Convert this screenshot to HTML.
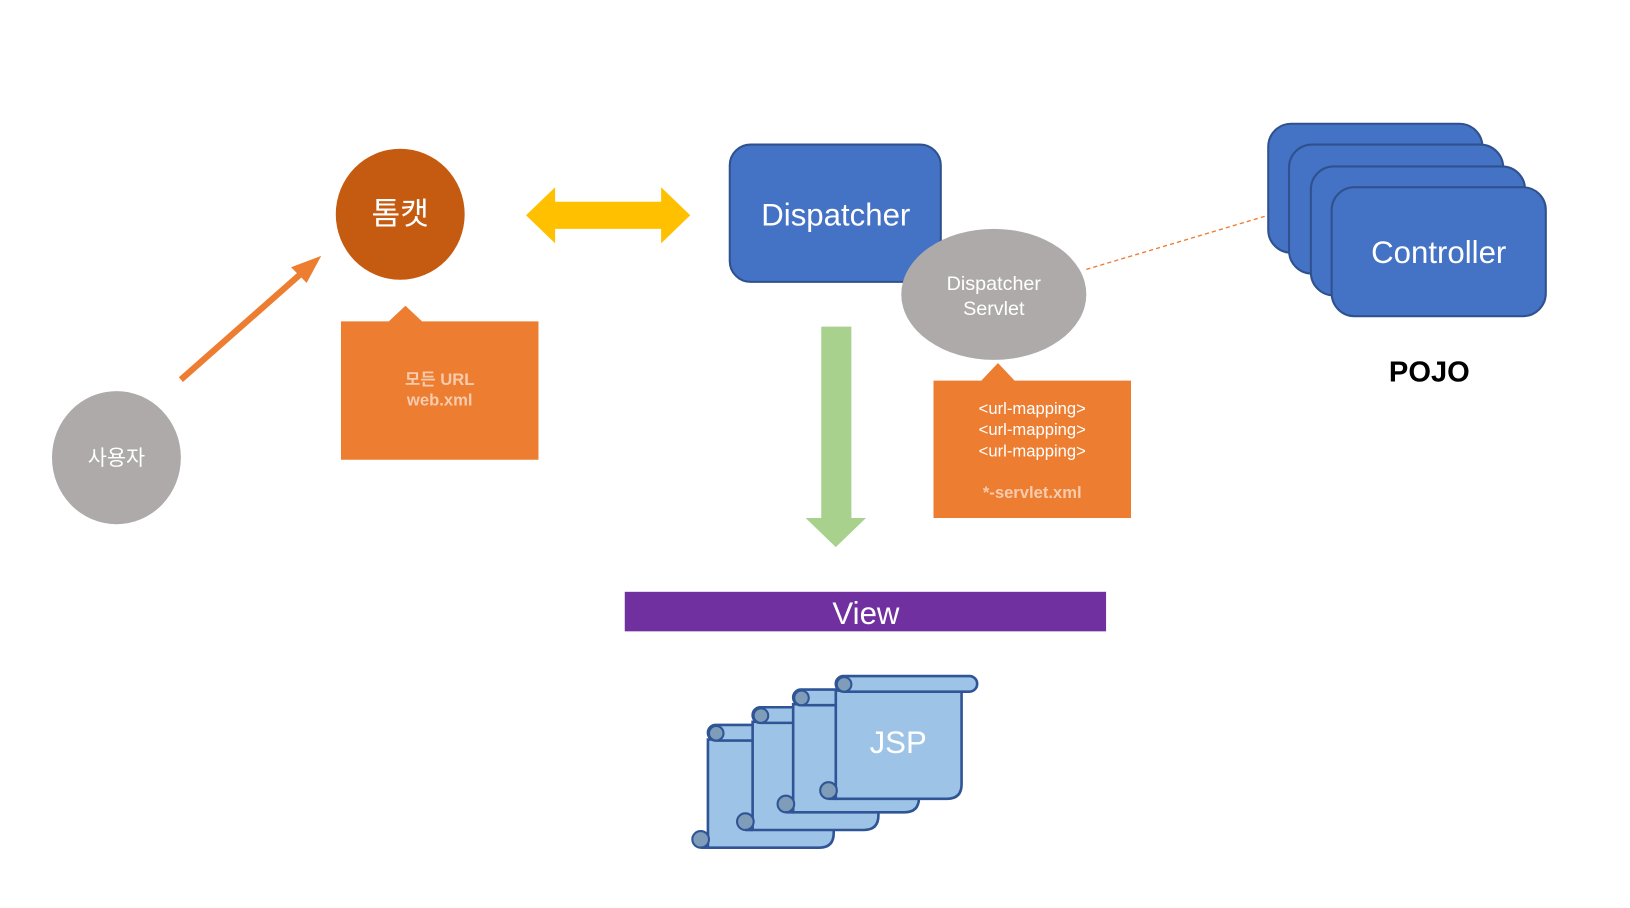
<!DOCTYPE html>
<html><head><meta charset="utf-8"><style>
html,body{margin:0;padding:0;background:#fff;width:1630px;height:908px;overflow:hidden}
svg{display:block}
text{font-family:"Liberation Sans","Noto Sans CJK KR",sans-serif}
</style></head><body>
<svg width="1630" height="908" viewBox="0 0 1568 873" preserveAspectRatio="none" xmlns="http://www.w3.org/2000/svg">
<defs>
<g id="scroll">
  <path d="M0,14 L0,118 L107,118 Q121,118 121,104 L121,14 Z" fill="#9DC3E6" stroke="#2F5597" stroke-width="2.5"/>
  <rect x="0" y="0" width="136" height="15" rx="7.5" fill="#9DC3E6" stroke="#2F5597" stroke-width="2.5"/>
  <circle cx="8" cy="8" r="7" fill="#7F9DB9" stroke="#2F5597" stroke-width="2"/>
  <circle cx="-7" cy="110" r="8" fill="#7F9DB9" stroke="#2F5597" stroke-width="2"/>
  <line x1="-7" y1="118" x2="0" y2="118" stroke="#2F5597" stroke-width="2.5"/>
</g>
</defs>
<ellipse cx="112" cy="440" rx="62" ry="64" fill="#AEAAAA"/>
<text x="112" y="447" font-size="20" fill="#fff" text-anchor="middle">사용자</text>
<line x1="174" y1="365" x2="292" y2="261" stroke="#ED7D31" stroke-width="6"/>
<polygon points="309,246 280,257 295,272" fill="#ED7D31"/>
<ellipse cx="385" cy="206" rx="62" ry="63" fill="#C55A11"/>
<text x="385" y="216" font-size="30" fill="#fff" text-anchor="middle">톰캣</text>
<polygon points="328,309 374,309 390,294 406,309 518,309 518,442 328,442" fill="#ED7D31"/>
<text x="423" y="370" font-size="16" font-weight="bold" fill="#F8CBAD" text-anchor="middle">모든 URL</text>
<text x="423" y="390" font-size="16" font-weight="bold" fill="#F8CBAD" text-anchor="middle">web.xml</text>
<polygon points="506,207 534,180 534,194 636,194 636,180 664,207 636,234 636,220 534,220 534,234" fill="#FFC000"/>
<rect x="702" y="139" width="203" height="132" rx="20" fill="#4472C4" stroke="#2F528F" stroke-width="2"/>
<text x="804" y="217" font-size="30" fill="#fff" text-anchor="middle">Dispatcher</text>
<ellipse cx="956" cy="283" rx="89" ry="63" fill="#AEAAAA"/>
<text x="956" y="279" font-size="19" fill="#fff" text-anchor="middle">Dispatcher</text>
<text x="956" y="303" font-size="19" fill="#fff" text-anchor="middle">Servlet</text>
<line x1="1045" y1="259" x2="1220" y2="207" stroke="#ED7D31" stroke-width="1.3" stroke-dasharray="4,3"/>
<rect x="1220" y="119" width="206" height="124" rx="22" fill="#4472C4" stroke="#2F528F" stroke-width="2"/>
<rect x="1240" y="139" width="206" height="124" rx="22" fill="#4472C4" stroke="#2F528F" stroke-width="2"/>
<rect x="1261" y="160" width="206" height="124" rx="22" fill="#4472C4" stroke="#2F528F" stroke-width="2"/>
<rect x="1281" y="180" width="206" height="124" rx="22" fill="#4472C4" stroke="#2F528F" stroke-width="2"/>
<text x="1384" y="253" font-size="30" fill="#fff" text-anchor="middle">Controller</text>
<text x="1375" y="367" font-size="28" font-weight="bold" fill="#000" text-anchor="middle">POJO</text>
<polygon points="790,314 819,314 819,498 833,498 804,526 775,498 790,498" fill="#A9D18E"/>
<polygon points="898,366 944,366 960,349 976,366 1088,366 1088,498 898,498" fill="#ED7D31"/>
<text x="993" y="398" font-size="16" fill="#fff" text-anchor="middle">&lt;url-mapping&gt;</text>
<text x="993" y="418" font-size="16" fill="#fff" text-anchor="middle">&lt;url-mapping&gt;</text>
<text x="993" y="439" font-size="16" fill="#fff" text-anchor="middle">&lt;url-mapping&gt;</text>
<text x="993" y="479" font-size="16" font-weight="bold" fill="#F8CBAD" text-anchor="middle">*-servlet.xml</text>
<rect x="601" y="569" width="463" height="38" fill="#7030A0"/>
<text x="833" y="600" font-size="30" fill="#fff" text-anchor="middle">View</text>
<use href="#scroll" x="681" y="697"/>
<use href="#scroll" x="724" y="680"/>
<use href="#scroll" x="763" y="663"/>
<use href="#scroll" x="804" y="650"/>
<text x="864" y="724" font-size="30" fill="#fff" text-anchor="middle">JSP</text>
</svg>
</body></html>
